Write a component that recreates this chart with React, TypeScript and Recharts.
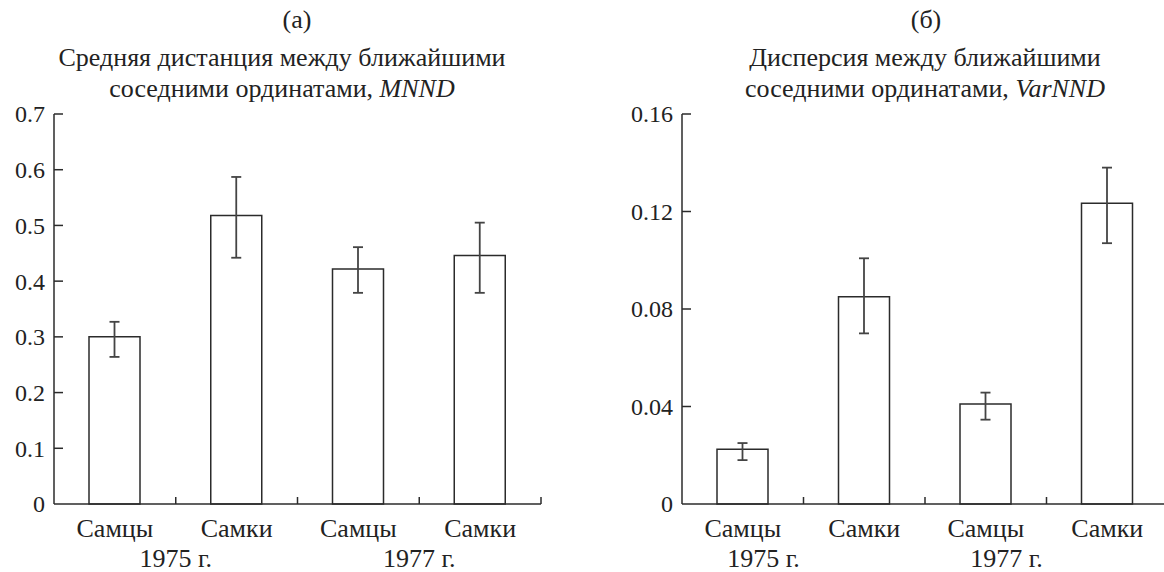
import * as React from 'react';
import { BarChart, Bar, XAxis, YAxis, ErrorBar } from 'recharts';

const categories = ['Самцы', 'Самки', 'Самцы', 'Самки'];
const years = ['1975 г.', '1977 г.'];

// (а) MNND
const mnnd = [0.3, 0.518, 0.422, 0.446];
const mnndLow = [0.264, 0.442, 0.379, 0.379];
const mnndHigh = [0.327, 0.587, 0.461, 0.505];
const mnndTicks = [0, 0.1, 0.2, 0.3, 0.4, 0.5, 0.6, 0.7];

// (б) VarNND
const varnnd = [0.0225, 0.085, 0.041, 0.1234];
const varLow = [0.018, 0.07, 0.0346, 0.107];
const varHigh = [0.025, 0.1008, 0.0457, 0.138];
const varTicks = [0, 0.04, 0.08, 0.12, 0.16];

const FONT = '"Liberation Serif", "Times New Roman", serif';
const INK = '#2b2b2b';
const NUM_FS = 24;
const TXT_FS = 26;

const build = (vals: number[], lo: number[], hi: number[]) =>
  vals.map((v, i) => ({ key: 'c' + i, v, err: [v - lo[i], hi[i] - v] }));

const YTick = (props: any) => {
  const { x, y, payload } = props;
  const v = payload.value;
  return (
    <g>
      {v !== 0 && <line x1={x + 9} x2={x + 18} y1={y} y2={y} stroke={INK} strokeWidth={1.5} />}
      <text x={x} y={y} dy="0.35em" textAnchor="end" fontFamily={FONT} fontSize={NUM_FS} fill="#222">
        {v === 0 ? '0' : String(v)}
      </text>
    </g>
  );
};

// category label under each bar, year under each pair, inward tick at each band edge
const makeXTick = (band: number, yearShift: number) => (props: any) => {
  const { x, y, payload } = props;
  const i = payload.index;
  return (
    <g>
      <line x1={x + band / 2} x2={x + band / 2} y1={y} y2={y - 7} stroke={INK} strokeWidth={1.5} />
      <text x={x} y={y + 33} textAnchor="middle" fontFamily={FONT} fontSize={TXT_FS} fill="#222">
        {categories[i]}
      </text>
      {i % 2 === 0 && (
        <text x={x + band / 2 + yearShift} y={y + 63} textAnchor="middle" fontFamily={FONT} fontSize={TXT_FS} fill="#222">
          {years[i / 2]}
        </text>
      )}
    </g>
  );
};

function Panel({ data, ticks, yWidth, width, right, band, yearShift }: any) {
  return (
    <BarChart width={width} height={572} data={data} margin={{ top: 114, right, bottom: 0, left: 0 }}>
      <XAxis
        dataKey="key"
        interval={0}
        height={68}
        tickSize={0}
        tickMargin={0}
        axisLine={{ stroke: INK, strokeWidth: 1.5 }}
        tickLine={false}
        tick={makeXTick(band, yearShift)}
      />
      <YAxis
        width={yWidth}
        domain={[ticks[0], ticks[ticks.length - 1]]}
        ticks={ticks}
        interval={0}
        tickSize={0}
        tickMargin={9}
        axisLine={{ stroke: INK, strokeWidth: 1.5 }}
        tickLine={false}
        tick={YTick}
      />
      <Bar dataKey="v" barSize={51} fill="#fff" stroke={INK} strokeWidth={1.5} isAnimationActive={false}>
        <ErrorBar dataKey="err" width={5} stroke="#444" strokeWidth={1.8} />
      </Bar>
    </BarChart>
  );
}

const titleStyle: React.CSSProperties = {
  position: 'absolute',
  fontFamily: FONT,
  fontSize: TXT_FS,
  lineHeight: '31px',
  color: '#222',
  textAlign: 'center',
  whiteSpace: 'nowrap',
  width: 500,
};

export default function App() {
  const dataA = build(mnnd, mnndLow, mnndHigh);
  const dataB = build(varnnd, varLow, varHigh);
  return (
    <div style={{ position: 'fixed', left: 0, top: 0, width: 1164, height: 572, overflow: 'hidden', background: '#fff' }}>
      <div style={{ position: 'absolute', left: 0, top: 0 }}>
        <Panel data={dataA} ticks={mnndTicks} yWidth={54} width={582} right={41} band={121.75} yearShift={0} />
      </div>
      <div style={{ position: 'absolute', left: 582, top: 0 }}>
        <Panel data={dataB} ticks={varTicks} yWidth={100} width={586} right={0} band={121.5} yearShift={-40} />
      </div>
      <div style={{ ...titleStyle, left: 47, top: 4 }}>(а)</div>
      <div style={{ ...titleStyle, left: 32, top: 42 }}>
        Средняя дистанция между ближайшими
        <br />
        соседними ординатами, <i>MNND</i>
      </div>
      <div style={{ ...titleStyle, left: 676, top: 4 }}>(б)</div>
      <div style={{ ...titleStyle, left: 675, top: 42 }}>
        Дисперсия между ближайшими
        <br />
        соседними ординатами, <i>VarNND</i>
      </div>
    </div>
  );
}
